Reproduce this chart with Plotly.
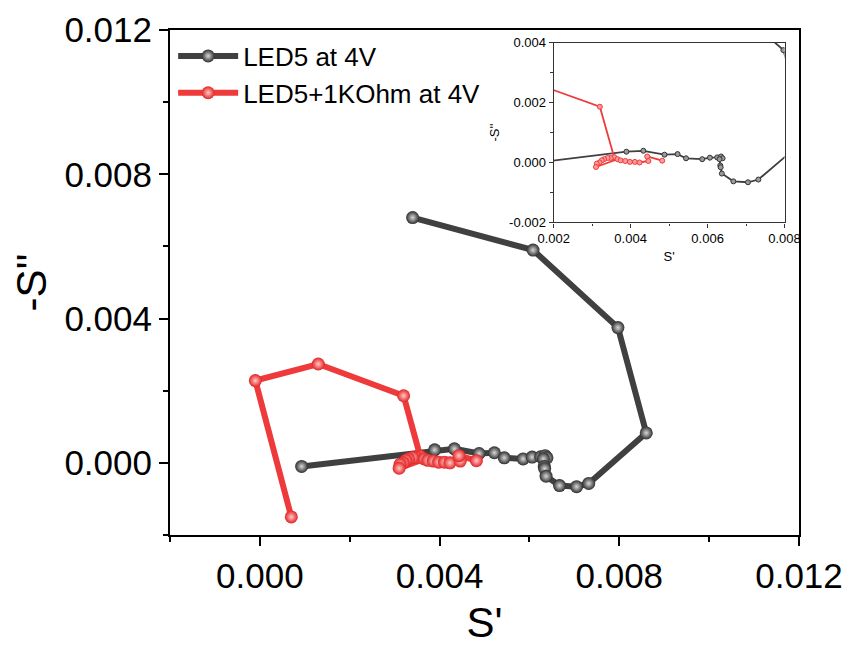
import plotly.graph_objects as go

# ---- data ----
black_name = "LED5 at 4V"
red_name = "LED5+1KOhm at 4V"

black_x = [0.00093, 0.00389, 0.00433, 0.00488, 0.00522, 0.00544, 0.00586, 0.00606,
           0.00625, 0.00635, 0.00639, 0.00631, 0.00633, 0.00634, 0.00637, 0.00667,
           0.00705, 0.00732, 0.00860, 0.00797, 0.00608, 0.00340]
black_y = [-0.00010, 0.00036, 0.00039, 0.00026, 0.00028, 0.00014, 0.00011, 0.00016,
           0.00017, 0.00020, 0.00014, 0.00011, -0.00010, -0.00016, -0.00037, -0.00063,
           -0.00066, -0.00057, 0.00083, 0.00375, 0.00590, 0.00680]

red_x = [0.00070, -0.00010, 0.00130, 0.00320, 0.00357, 0.00348, 0.00340, 0.00331,
         0.00325, 0.00319, 0.00312, 0.00310, 0.00366, 0.00374, 0.00386, 0.00398,
         0.00411, 0.00423, 0.00446, 0.00443, 0.00482]
red_y = [-0.00150, 0.00228, 0.00274, 0.00186, 0.00018, 0.00015, 0.00015, 0.00011,
         0.00007, 0.00000, -0.00004, -0.00015, 0.00011, 0.00007, 0.00005, 0.00002,
         0.00002, 0.00000, 0.00005, 0.00020, 0.00006]

main_tickvals = [0.000, 0.004, 0.008, 0.012]
main_ticktext = ["0.000", "0.004", "0.008", "0.012"]
inset_xtickvals = [0.002, 0.004, 0.006, 0.008]
inset_xticktext = ["0.002", "0.004", "0.006", "0.008"]
inset_ytickvals = [-0.002, 0.000, 0.002, 0.004]
inset_yticktext = ["-0.002", "0.000", "0.002", "0.004"]

BLACK = "#404040"
RED = "#ee3a3a"
FONT = "Liberation Sans, Arial, sans-serif"

fig = go.Figure()

# main traces
fig.add_trace(go.Scatter(
    x=black_x, y=black_y, mode="lines+markers", name=black_name,
    line=dict(color=BLACK, width=6),
    marker=dict(size=13, color="#2e2e2e", gradient=dict(type="radial", color="#d8d8d8"),
                line=dict(width=0)),
))
fig.add_trace(go.Scatter(
    x=red_x, y=red_y, mode="lines+markers", name=red_name,
    line=dict(color=RED, width=6),
    marker=dict(size=13, color="#e32222", gradient=dict(type="radial", color="#ffc8c8"),
                line=dict(width=0)),
))

# inset traces
fig.add_trace(go.Scatter(
    x=black_x, y=black_y, mode="lines+markers", showlegend=False,
    xaxis="x2", yaxis="y2",
    line=dict(color=BLACK, width=1.8),
    marker=dict(size=5, color="#9a9a9a", line=dict(color="#333333", width=1)),
))
fig.add_trace(go.Scatter(
    x=red_x, y=red_y, mode="lines+markers", showlegend=False,
    xaxis="x2", yaxis="y2",
    line=dict(color=RED, width=1.8),
    marker=dict(size=5, color="#ff9a9a", line=dict(color=RED, width=1)),
))

main_axis = dict(
    showline=True, linecolor="black", linewidth=2, mirror=True,
    showgrid=False, zeroline=False, automargin=False,
    ticks="outside", ticklen=9, tickwidth=2, tickcolor="black",
    tickfont=dict(family=FONT, size=35, color="black"),
    minor=dict(dtick=0.002, tick0=0, ticks="outside", ticklen=5, tickwidth=2,
               tickcolor="black", showgrid=False),
)
inset_axis = dict(
    showline=True, linecolor="#333333", linewidth=1.2, mirror=True,
    showgrid=False, zeroline=False, automargin=False,
    ticks="outside", ticklen=4, tickwidth=1, tickcolor="#333333",
    tickfont=dict(family=FONT, size=13, color="black"),
    minor=dict(dtick=0.001, tick0=0, ticks="outside", ticklen=2.5, tickwidth=1,
               tickcolor="#333333", showgrid=False),
)

fig.update_layout(
    width=851, height=646,
    margin=dict(l=170, r=52, t=30, b=111),
    paper_bgcolor="white", plot_bgcolor="white",
    font=dict(family=FONT, color="black"),
    xaxis=dict(main_axis, range=[-0.002, 0.012], tickvals=main_tickvals,
               ticktext=main_ticktext, domain=[0, 1],
               title=dict(text="S'", font=dict(size=42), standoff=18)),
    yaxis=dict(main_axis, range=[-0.002, 0.012], tickvals=main_tickvals,
               ticktext=main_ticktext, domain=[0, 1],
               title=dict(text="-S''", font=dict(size=42), standoff=5)),
    xaxis2=dict(inset_axis, range=[0.002, 0.008], tickvals=inset_xtickvals,
                ticktext=inset_xticktext, domain=[0.61, 0.977], anchor="y2",
                title=dict(text="S'", font=dict(size=13), standoff=6)),
    yaxis2=dict(inset_axis, range=[-0.002, 0.004], tickvals=inset_ytickvals,
                ticktext=inset_yticktext, domain=[0.619, 0.975], anchor="x2",
                title=dict(text="-S''", font=dict(size=13), standoff=6)),
    legend=dict(x=0.005, y=0.995, xanchor="left", yanchor="top",
                bgcolor="rgba(0,0,0,0)", font=dict(family=FONT, size=26),
                tracegroupgap=0, itemwidth=60),
    showlegend=True,
)

fig.write_html("out.html",
               config={"displayModeBar": False},
               post_script="document.body.style.margin='0';document.body.style.padding='0';")
